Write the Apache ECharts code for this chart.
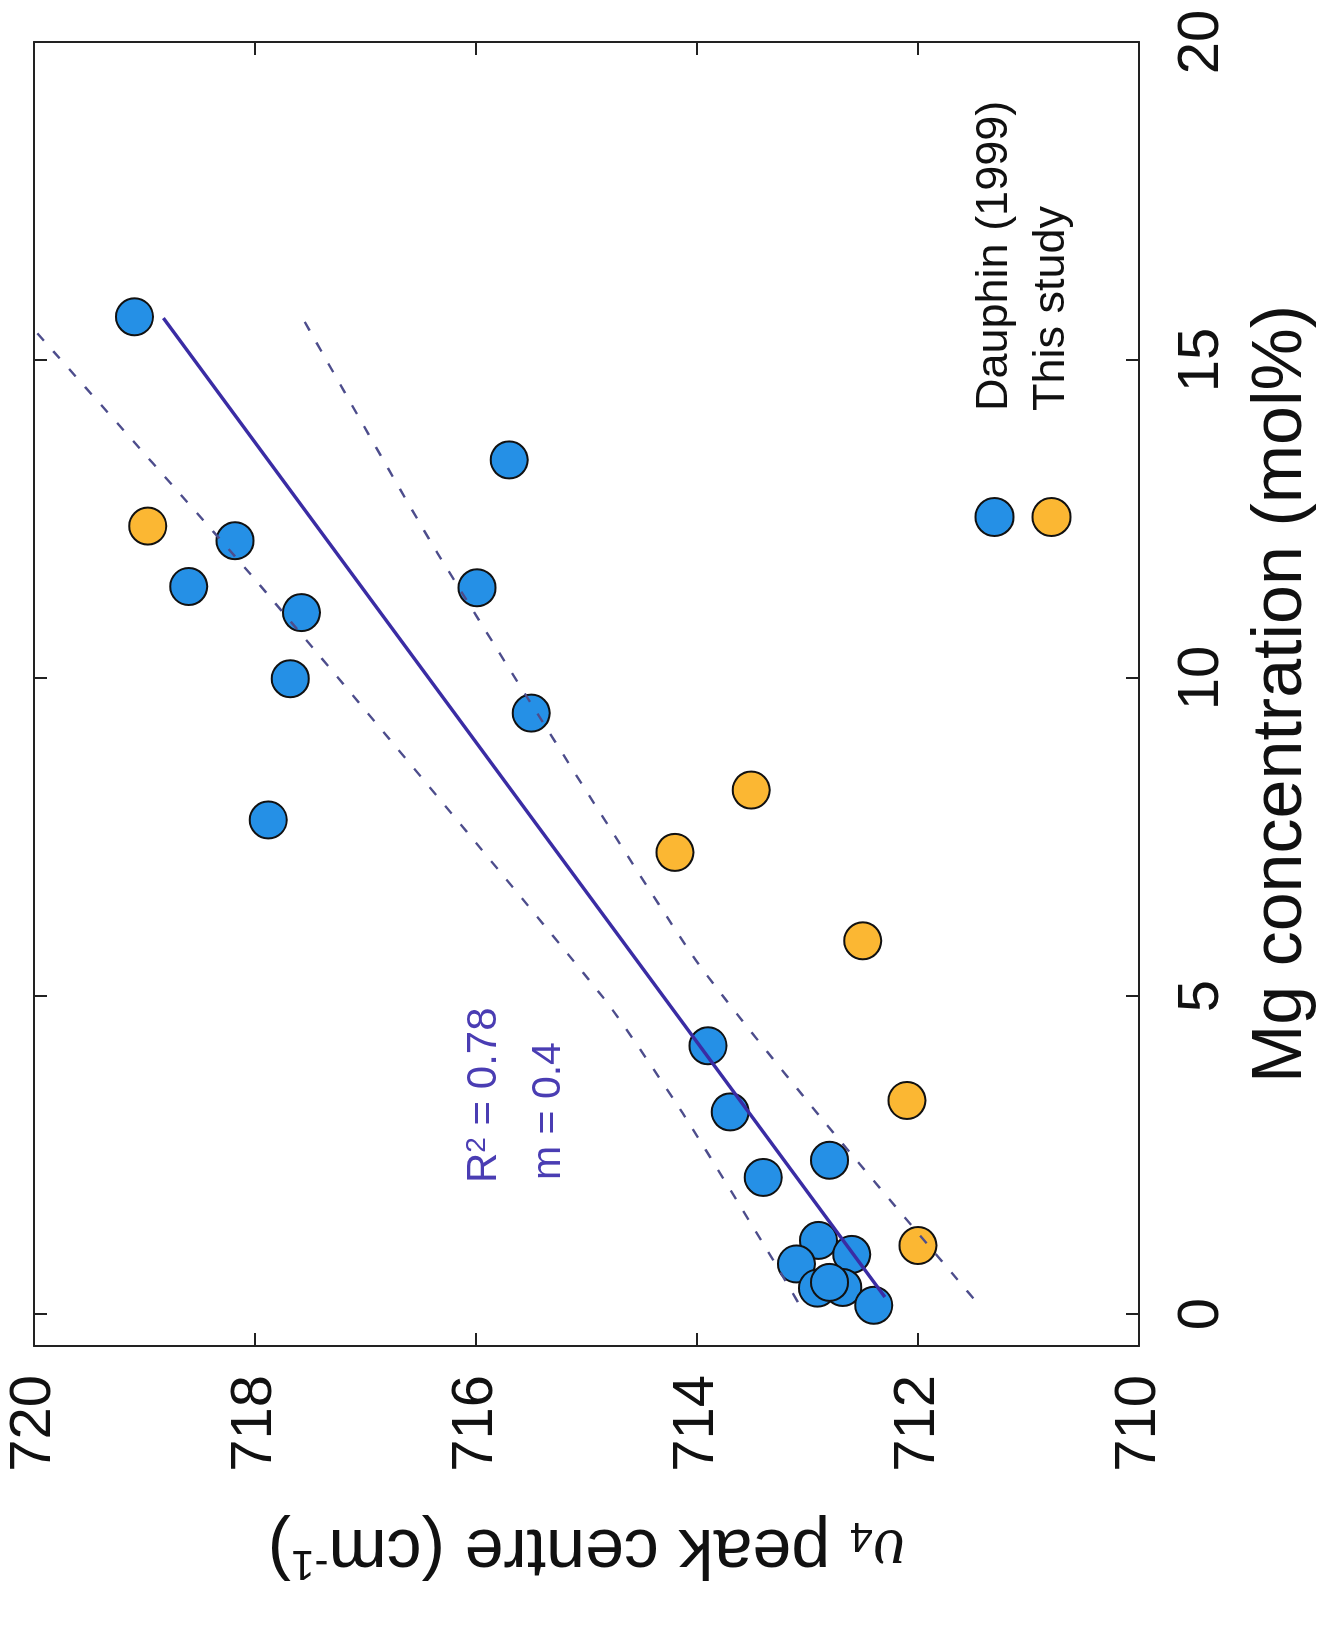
<!DOCTYPE html>
<html>
<head>
<meta charset="utf-8">
<script src="https://cdn.jsdelivr.net/npm/echarts@6/dist/echarts.min.js"></script>
<style>
  html, body { margin: 0; padding: 0; background: #ffffff; overflow: hidden; }
  #wrap { position: relative; width: 1335px; height: 1628px; overflow: hidden; background: #fff; }
  #chart {
    position: absolute; left: 0; top: 0;
    width: 1628px; height: 1335px;
    transform-origin: 0 0;
    transform: translate(0px, 1628px) rotate(-90deg);
  }
</style>
</head>
<body>
<div id="wrap"><div id="chart"></div></div>
<script>
// ---- Data (x = Mg concentration mol%, y = v4 peak centre cm-1) ----
const dauphinMg   = [15.68, 13.43, 12.16, 11.44, 11.42, 11.03, 9.99, 9.45, 7.77, 4.22, 3.18, 2.15, 2.42, 1.16, 0.94, 0.79, 0.41, 0.42, 0.50, 0.14];
const dauphinPeak = [719.09, 715.70, 718.18, 718.60, 715.99, 717.58, 717.68, 715.50, 717.88, 713.90, 713.70, 713.40, 712.80, 712.90, 712.60, 713.10, 712.91, 712.68, 712.80, 712.40];

const studyMg   = [12.39, 7.26, 8.24, 5.87, 3.36, 1.08];
const studyPeak = [718.97, 714.20, 713.51, 712.50, 712.10, 712.00];

const fitMg   = [15.66, 0.27];
const fitPeak = [718.83, 712.30];

const upperMg   = [15.42, 11.51, 4.98, 3.16, 0.85, 0.14];
const upperPeak = [719.97, 717.98, 714.85, 714.13, 713.31, 713.07];

const lowerMg   = [15.60, 11.97, 5.64, 3.05, 0.17];
const lowerPeak = [717.55, 716.35, 714.04, 712.86, 711.46];

const mgTicks = [0, 5, 10, 15, 20];
const seriesNames = ['Dauphin (1999)', 'This study'];
const annotR2 = '0.78';
const annotM = '0.4';

// ---- helpers ----
const zip = (a, b) => a.map((v, i) => [v, b[i]]);
const FONT = "'Liberation Sans', Arial, Helvetica, sans-serif";
const AX = '#222222';
const ANN = '#4a3db3';

const chart = echarts.init(document.getElementById('chart'), null, { renderer: 'canvas' });

const scatterStyle = (color) => ({
  color: color,
  borderColor: '#111111',
  borderWidth: 2,
  opacity: 1
});

const option = {
  backgroundColor: '#ffffff',
  animation: false,
  textStyle: { fontFamily: FONT },
  grid: { left: 282, right: 42, top: 34, bottom: 196, containLabel: false },
  legend: {
    orient: 'vertical',
    left: 1086,
    top: 967,
    itemWidth: 38,
    itemHeight: 38,
    itemGap: 12,
    icon: 'circle',
    data: seriesNames,
    textStyle: { fontSize: 45, color: '#111', fontFamily: FONT, padding: [0, 0, 0, 82] },
    selectedMode: false
  },
  xAxis: [
    {
      type: 'value', position: 'bottom', min: -0.5, max: 20,
      name: 'Mg concentration (mol%)', nameLocation: 'middle', nameGap: 108,
      nameTextStyle: { fontSize: 70, color: '#111', fontFamily: FONT },
      axisLine: { show: true, onZero: false, lineStyle: { color: AX, width: 2 } },
      axisTick: { show: true, inside: true, length: 13, customValues: mgTicks, lineStyle: { color: AX, width: 2 } },
      axisLabel: { show: true, customValues: mgTicks, margin: 34, fontSize: 58, color: '#111', fontFamily: FONT },
      splitLine: { show: false }
    },
    {
      type: 'value', position: 'top', min: -0.5, max: 20,
      axisLine: { show: true, onZero: false, lineStyle: { color: AX, width: 2 } },
      axisTick: { show: true, inside: true, length: 13, customValues: mgTicks, lineStyle: { color: AX, width: 2 } },
      axisLabel: { show: false },
      splitLine: { show: false }
    }
  ],
  yAxis: [
    {
      type: 'value', position: 'left', min: 710, max: 720, interval: 2,
      name: '{u|υ}{sub|4}{t| peak centre (cm}{sup|-1}{t|)}', nameLocation: 'middle', nameGap: 168,
      nameTextStyle: {
        fontSize: 70, color: '#111', fontFamily: FONT,
        rich: {
          t: { fontSize: 70, lineHeight: 70, color: '#111', fontFamily: FONT },
          u: { fontSize: 70, lineHeight: 70, fontFamily: "'Liberation Serif', 'DejaVu Serif', serif", fontStyle: 'italic', color: '#111' },
          sub: { fontSize: 42, lineHeight: 16, verticalAlign: 'bottom', color: '#111', fontFamily: FONT },
          sup: { fontSize: 42, lineHeight: 22, verticalAlign: 'top', color: '#111', fontFamily: FONT }
        }
      },
      axisLine: { show: true, onZero: false, lineStyle: { color: AX, width: 2 } },
      axisTick: { show: true, inside: true, length: 13, lineStyle: { color: AX, width: 2 } },
      axisLabel: { show: true, margin: 29, fontSize: 58, color: '#111', fontFamily: FONT },
      splitLine: { show: false }
    },
    {
      type: 'value', position: 'right', min: 710, max: 720, interval: 2,
      axisLine: { show: true, onZero: false, lineStyle: { color: AX, width: 2 } },
      axisTick: { show: true, inside: true, length: 13, lineStyle: { color: AX, width: 2 } },
      axisLabel: { show: false },
      splitLine: { show: false }
    }
  ],
  series: [
    {
      name: seriesNames[0], type: 'scatter', symbol: 'circle', symbolSize: 37,
      data: zip(dauphinMg, dauphinPeak), itemStyle: scatterStyle('#2590e6'), z: 2
    },
    {
      name: seriesNames[1], type: 'scatter', symbol: 'circle', symbolSize: 37,
      data: zip(studyMg, studyPeak), itemStyle: scatterStyle('#fbb733'), z: 2
    },
    {
      name: 'fit', type: 'line', data: zip(fitMg, fitPeak), symbol: 'none',
      lineStyle: { color: '#3a2ca4', width: 3.5 }, z: 3, silent: true
    },
    {
      name: 'upper', type: 'line', data: zip(upperMg, upperPeak), symbol: 'none', smooth: 0.2,
      lineStyle: { color: '#4d4d8c', width: 2.4, type: [10, 14] }, z: 3, silent: true
    },
    {
      name: 'lower', type: 'line', data: zip(lowerMg, lowerPeak), symbol: 'none', smooth: 0.2,
      lineStyle: { color: '#4d4d8c', width: 2.4, type: [10, 14] }, z: 3, silent: true
    }
  ],
  graphic: [
    {
      type: 'text', x: 445, y: 484, z: 10,
      style: {
        text: '{a|R}{s|2}{a| = ' + annotR2 + '}',
        align: 'left', verticalAlign: 'middle',
        fill: ANN,
        rich: {
          a: { fontSize: 42, lineHeight: 42, fontFamily: FONT, fill: ANN, color: ANN },
          s: { fontSize: 28, lineHeight: 12, verticalAlign: 'top', fontFamily: FONT, fill: ANN, color: ANN }
        }
      }
    },
    {
      type: 'text', x: 448, y: 549, z: 10,
      style: {
        text: 'm = ' + annotM,
        align: 'left', verticalAlign: 'middle',
        fontSize: 41, fontFamily: FONT, fill: ANN
      }
    }
  ]
};

chart.setOption(option);
</script>
</body>
</html>
